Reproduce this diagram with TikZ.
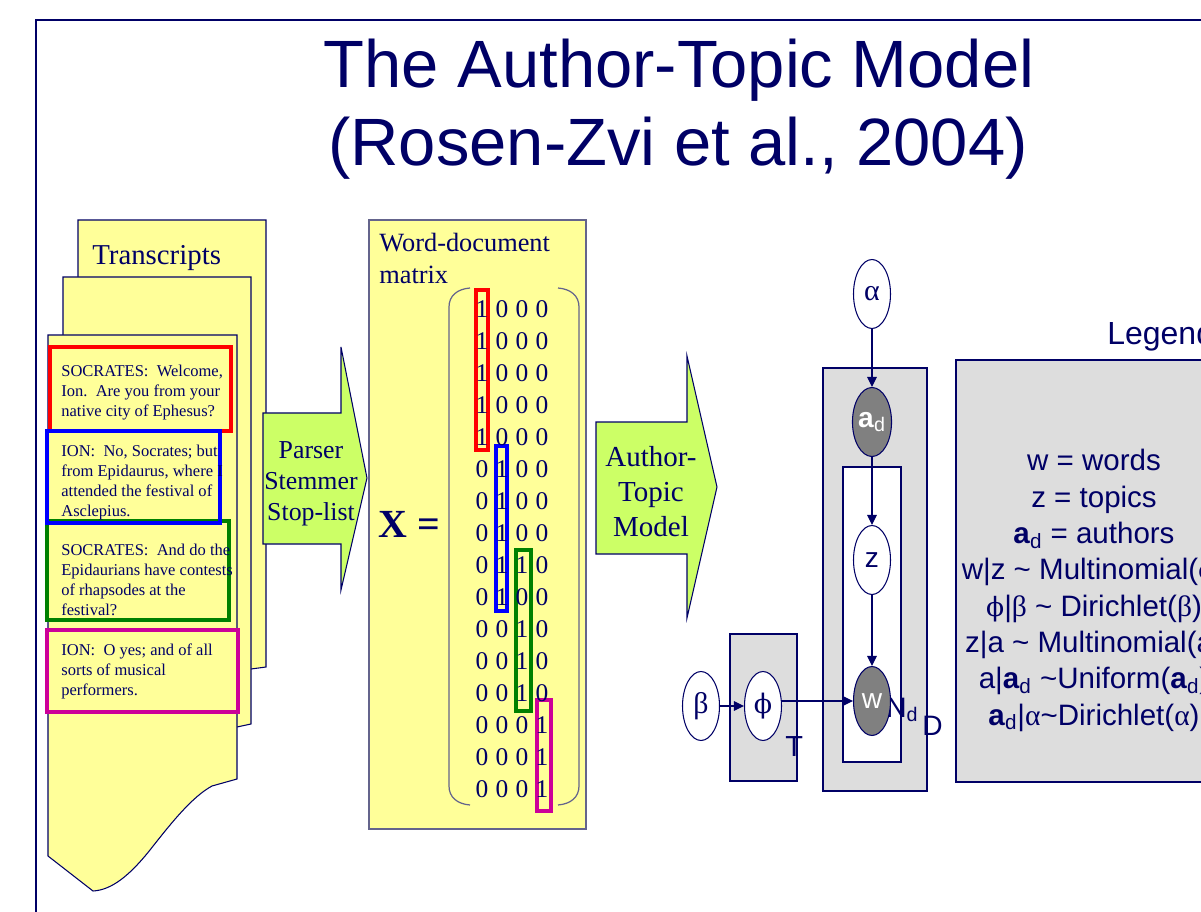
\documentclass[tikz,border=0pt]{standalone}
\usepackage{fontspec}
\setmainfont{Liberation Serif}
\newfontfamily\arialfont{Liberation Sans}
\newfontfamily\phifont{DejaVu Serif}
\usetikzlibrary{arrows.meta,shapes.geometric}

\definecolor{ink}{RGB}{0,0,102}
\definecolor{note}{RGB}{255,255,153}
\definecolor{lime}{RGB}{204,255,102}
\definecolor{platefill}{RGB}{221,221,221}
\definecolor{shaded}{RGB}{128,128,128}
\definecolor{boxgray}{RGB}{100,100,140}
\definecolor{hlred}{RGB}{255,0,0}
\definecolor{hlblue}{RGB}{0,0,255}
\definecolor{hlgreen}{RGB}{0,128,0}
\definecolor{hlpink}{RGB}{204,0,153}

\newcommand\fsz[2]{\fontsize{#1}{#2}\selectfont}
\newcommand\ad{\textbf{a}\textsubscript{d}}
\newcommand\gk[1]{{\rmfamily #1}}
\newcommand\phisym{{\phifont\fontsize{0.9em}{1em}\selectfont ϕ}}

\tikzset{
  var/.style={ellipse, draw=ink, line width=0.6pt, fill=white, text=ink,
    minimum width=0.74cm, minimum height=1.38cm, inner sep=0pt,
    font=\arialfont\fsz{16}{16}},
  obs/.style={var, fill=shaded, text=white},
  link/.style={draw=ink, line width=0.6pt, -{Triangle[length=0.2cm,width=0.19cm]}},
  page/.style={draw=ink, line width=0.6pt, fill=note},
  talk/.style={anchor=north west, inner sep=0pt, align=left, text=ink, font=\fsz{9.4}{11.34}},
  hl/.style={line width=1.8pt},
  plate/.style={draw=ink, line width=0.7pt, fill=platefill},
  bigarrow/.style={draw=ink, line width=0.6pt, fill=lime},
  digit/.style={inner sep=0pt, text=ink, font=\fsz{14.5}{14.5}},
  lbl/.style={anchor=base west, inner sep=0pt, text=ink}
}

\begin{document}
\begin{tikzpicture}[x=0.02cm, y=-0.02cm]
%%%%% START %%%%%
\useasboundingbox (0,0) rectangle (1201,912);
\clip (0,0) rectangle (1201,912);

% slide frame
\draw[ink, line width=1pt] (36,915) -- (36,20) -- (1205,20);

% title
\node[font=\arialfont\fsz{38.1}{44}, text=ink, anchor=base] (title) at (679,88) {The Author-Topic Model};
\node[font=\arialfont\fsz{38.1}{44}, text=ink, anchor=base] (cite) at (678,166) {(Rosen-Zvi et al., 2004)};

% stack of transcripts
\draw[page] (78,220) -- (266,220) -- (266,667) -- (251,669) -- (78,669) -- cycle;
\draw[page] (63,277) -- (251,277) -- (251,724) -- (237,727) -- (63,727) -- cycle;
\draw[page] (48,335) -- (237,335) -- (237,779) -- (212,786)
  .. controls (192,797) and (172,822) .. (150,850)
  .. controls (130,875) and (112,890) .. (93,891) -- (48,856) -- cycle;
\node[lbl, font=\fsz{16.4}{16.4}] (ttl) at (92,265) {Transcripts};

\draw[hl, hlred] (50,347) rectangle (231,431);
\draw[hl, hlgreen] (47,521) rectangle (229,620);
\draw[hl, hlblue] (47,431) rectangle (220,523);
\draw[hl, hlpink] (47,630) rectangle (238,712);

\node[talk] (s1) at (61,365) {SOCRATES:\ \ Welcome,\\Ion.\ \ Are you from your\\native city of Ephesus?};
\node[talk] (i1) at (61,445) {ION:\ \ No, Socrates; but\\from Epidaurus, where I\\attended the festival of\\Asclepius.};
\node[talk] (s2) at (61,544) {SOCRATES:\ \ And do the\\Epidaurians have contests\\of rhapsodes at the\\festival?};
\node[talk] (i2) at (61,644) {ION:\ \ O yes; and of all\\sorts of musical\\performers.};

% preprocessing arrow
\draw[bigarrow] (263,413) -- (341,413) -- (341,347) -- (367,478) -- (341,590) -- (341,544) -- (263,544) -- cycle;
\node[anchor=north, align=center, inner sep=0pt, text=ink, font=\fsz{14.7}{17.6}] (parse) at (311,441) {Parser\\Stemmer\\Stop-list};

% word-document matrix
\draw[fill=note, draw=boxgray, line width=0.6pt] (369,220) rectangle (586,829);
\node[anchor=north west, align=left, inner sep=0pt, text=ink, font=\fsz{15}{18.1}] (wdm) at (379,233) {Word-document\\matrix};
\node[lbl, font=\bfseries\fsz{22.7}{22.7}] (xeq) at (378,537) {X =};

\draw[boxgray, line width=0.7pt] (470,288) .. controls (457,289) and (449,296) .. (449,307)
  -- (449,786) .. controls (449,797) and (457,804) .. (470,805);
\draw[boxgray, line width=0.7pt] (558,288) .. controls (571,289) and (579,296) .. (579,307)
  -- (579,786) .. controls (579,797) and (571,804) .. (558,805);

\draw[hl, hlred] (476,290) rectangle (488,450);
\draw[hl, hlblue] (496,446) rectangle (507,611);
\draw[hl, hlgreen] (516,550) rectangle (531,711);
\draw[hl, hlpink] (537,700) rectangle (551,811);

\foreach \row [count=\i] in {{1,0,0,0},{1,0,0,0},{1,0,0,0},{1,0,0,0},{1,0,0,0},
    {0,1,0,0},{0,1,0,0},{0,1,0,0},{0,1,1,0},{0,1,0,0},
    {0,0,1,0},{0,0,1,0},{0,0,1,0},{0,0,0,1},{0,0,0,1},{0,0,0,1}}
  \foreach \v [count=\j] in \row
    \node[digit] (m\i-\j) at ({462+20*\j},{277+32*\i}) {\v};

% model arrow
\draw[bigarrow] (596,422) -- (687,422) -- (687,356) -- (717,487) -- (687,618) -- (687,554) -- (596,554) -- cycle;
\node[anchor=north, align=center, inner sep=0pt, text=ink, font=\fsz{16.5}{19.8}] (atm) at (651,446) {Author-\\Topic\\Model};

% plates
\draw[plate] (823,368) rectangle (927,791);
\draw[draw=ink, line width=0.7pt, fill=white] (843,467) rectangle (901,762);
\draw[plate] (730,634) rectangle (797,781);
\node[lbl, font=\arialfont\fsz{16.5}{16.5}] (tp) at (785,756) {T};
\node[lbl, font=\arialfont\fsz{16}{16}] (np) at (886,717) {N\textsubscript{d}};
\node[lbl, font=\arialfont\fsz{16}{16}] (dp) at (922,735) {D};

% variables
\node[var, font=\rmfamily\fsz{17}{17}] (alpha) at (872,294) {α};
\node[obs] (ad) at (872,422) {\ad};
\node[var] (z) at (872,560) {z};
\node[obs] (w) at (872,701) {w};
\node[var, font=\rmfamily\fsz{17}{17}] (beta) at (701,706) {β};
\node[var, font=\rmfamily\fsz{17}{17}] (phi) at (763,706) {\phisym};

\draw[link] (alpha) -- (ad);
\draw[link] (ad) -- (z);
\draw[link] (z) -- (w);
\draw[link] (beta) -- (phi);
\draw[link] (phi.east |- w) -- (w);

% legend
\node[lbl, font=\arialfont\fsz{18.2}{18.2}] (legtitle) at (1107,345) {Legend};
\draw[plate] (956,360) rectangle (1230,782);
\node[anchor=north, align=center, inner sep=0pt, text=ink, font=\arialfont\fsz{16.8}{20.7}] (legend) at (1094,449)
  {w = words\\z = topics\\\ad{} = authors\\w|z \textasciitilde{} Multinomial(\phisym)\\
   \phisym|\gk{β} \textasciitilde{} Dirichlet(\gk{β})\\z|a \textasciitilde{} Multinomial(a)\\
   a|\ad{} \textasciitilde Uniform(\ad)\\\ad|\gk{α}\textasciitilde Dirichlet(\gk{α})};
%%%%% END %%%%%
\end{tikzpicture}
\end{document}
